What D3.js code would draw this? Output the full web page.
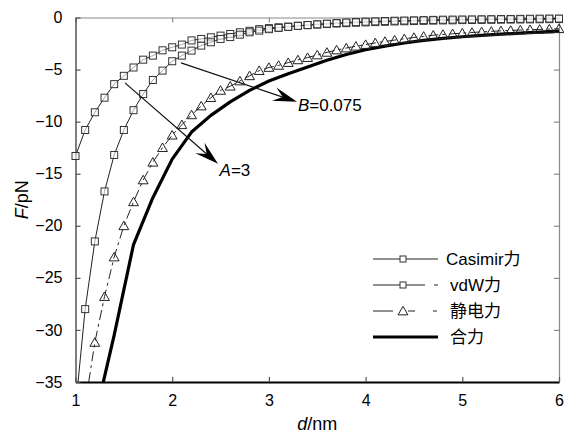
<!DOCTYPE html>
<html><head><meta charset="utf-8">
<script src="https://cdn.jsdelivr.net/npm/d3@7"></script>
<style>
html,body{margin:0;padding:0;background:#fff;}
text{font-family:"Liberation Sans",Arial,"Noto Sans CJK SC",sans-serif;}
</style></head>
<body><svg id="chart" width="564" height="436"></svg>
<script>
// ---- data ----
const dGrid = [1.0,1.1,1.2,1.3,1.4,1.5,1.6,1.7,1.8,1.9,2.0,2.1,2.2,2.3,2.4,2.5,2.6,2.7,2.8,2.9,3.0,3.1,3.2,3.3,3.4,3.5,3.6,3.7,3.8,3.9,4.0,4.1,4.2,4.3,4.4,4.5,4.6,4.7,4.8,4.9,5.0,5.1,5.2,5.3,5.4,5.5,5.6,5.7,5.8,5.9,6.0];
const casimir = [-13.3,-10.8,-9.1,-7.7,-6.4,-5.6,-4.8,-4.05,-3.66,-3.15,-2.86,-2.6,-2.2,-2.06,-1.9,-1.74,-1.58,-1.42,-1.28,-1.12,-1.02,-0.94,-0.88,-0.8,-0.74,-0.68,-0.63,-0.58,-0.54,-0.5,-0.47,-0.44,-0.41,-0.38,-0.36,-0.34,-0.32,-0.3,-0.28,-0.27,-0.25,-0.24,-0.23,-0.22,-0.21,-0.2,-0.19,-0.18,-0.17,-0.16,-0.15];
const vdw = [-37.5,-28.0,-21.5,-16.7,-13.2,-10.8,-8.9,-7.35,-6.0,-5.1,-4.2,-3.66,-3.18,-2.7,-2.38,-2.06,-1.88,-1.65,-1.42,-1.26,-1.12,-1.0,-0.9,-0.8,-0.72,-0.65,-0.59,-0.53,-0.48,-0.44,-0.4,-0.37,-0.34,-0.31,-0.29,-0.27,-0.25,-0.23,-0.21,-0.2,-0.19,-0.18,-0.17,-0.16,-0.15,-0.14,-0.13,-0.12,-0.11,-0.1,-0.1];
const electro = [-45.0,-37.2,-31.2,-26.8,-23.0,-20.0,-17.7,-15.6,-13.9,-12.5,-11.3,-10.3,-9.35,-8.5,-7.7,-7.0,-6.6,-6.1,-5.6,-5.1,-4.8,-4.6,-4.33,-4.07,-3.85,-3.6,-3.35,-3.12,-2.93,-2.76,-2.6,-2.44,-2.3,-2.17,-2.04,-1.92,-1.81,-1.7,-1.63,-1.56,-1.5,-1.44,-1.38,-1.33,-1.28,-1.24,-1.2,-1.17,-1.14,-1.11,-1.08];
const totalD = [1.2,1.4,1.6,1.8,2.0,2.2,2.4,2.6,2.8,3.0,3.2,3.4,3.6,3.8,4.0,4.2,4.4,4.6,4.8,5.0,5.2,5.4,5.6,5.8,6.0];
const totalF = [-38.5,-30.5,-21.8,-17.3,-13.6,-11.0,-9.4,-8.1,-7.0,-6.1,-5.4,-4.75,-4.1,-3.55,-3.1,-2.75,-2.45,-2.2,-2.0,-1.85,-1.72,-1.6,-1.5,-1.4,-1.3];
const xTicks = [1,2,3,4,5,6];
const yTicks = [0,-5,-10,-15,-20,-25,-30,-35];
const legendLabels = ["Casimir力","vdW力","静电力","合力"];
// annotations (data units)
const annA = {from:[1.512,-6.28], to:[2.474,-14.05], label:[2.49,-15.25], name:"A", value:"=3"};
const annB = {from:[2.091,-4.36], to:[3.29,-8.1], label:[3.30,-8.95], name:"B", value:"=0.075"};

// ---- layout ----
const svg = d3.select("#chart");
const L = 75.5, R = 559, T = 17.5, B = 382;
const x = d3.scaleLinear().domain([1,6]).range([L,R]);
const y = d3.scaleLinear().domain([-35,0]).range([B,T]);

svg.append("defs").append("clipPath").attr("id","clip")
  .append("rect").attr("x",L).attr("y",T).attr("width",R-L).attr("height",B-T);

const topAx = svg.append("g").attr("transform",`translate(0,${T})`)
  .call(d3.axisTop(x).tickValues(xTicks).tickSizeInner(-5).tickSizeOuter(0).tickFormat(""));
const rightAx = svg.append("g").attr("transform",`translate(${R},0)`)
  .call(d3.axisRight(y).tickValues(yTicks).tickSizeInner(-5).tickSizeOuter(0).tickFormat(""));
[topAx,rightAx].forEach(g=>{g.selectAll("path,line").attr("stroke","#8a8a8a").attr("stroke-width",1.2);});

const botAx = svg.append("g").attr("transform",`translate(0,${B})`)
  .call(d3.axisBottom(x).tickValues(xTicks).tickSizeInner(-5).tickSizeOuter(0).tickPadding(10).tickFormat(d3.format("d")));
botAx.selectAll("path").attr("stroke","#000").attr("stroke-width",1.8);
botAx.selectAll("line").attr("stroke","#555").attr("stroke-width",1.2);
botAx.selectAll("text").attr("font-size",16).attr("fill","#000").attr("dy","0.85em");

const leftAx = svg.append("g").attr("transform",`translate(${L},0)`)
  .call(d3.axisLeft(y).tickValues(yTicks).tickSizeInner(-5).tickSizeOuter(0).tickPadding(13));
leftAx.selectAll("path").attr("stroke","#555").attr("stroke-width",1.5);
leftAx.selectAll("line").attr("stroke","#555").attr("stroke-width",1.2);
leftAx.selectAll("text").attr("font-size",16).attr("fill","#000");

const xt = svg.append("text").attr("x",(L+R)/2).attr("y",430).attr("text-anchor","middle").attr("font-size",18);
xt.append("tspan").attr("font-style","italic").text("d");
xt.append("tspan").text("/nm");
const yt = svg.append("text").attr("transform",`translate(28,${(T+B)/2}) rotate(-90)`).attr("text-anchor","middle").attr("font-size",18);
yt.append("tspan").attr("font-style","italic").text("F");
yt.append("tspan").text("/pN");

// ---- series ----
const plot = svg.append("g");
const clipped = plot.append("g").attr("clip-path","url(#clip)");
const line = d3.line().x(d=>x(d[0])).y(d=>y(d[1]));
const zip = (xs,ys)=>xs.map((v,i)=>[v,ys[i]]);

clipped.append("path").datum(zip(dGrid,casimir)).attr("d",line)
  .attr("fill","none").attr("stroke","#222").attr("stroke-width",1);
clipped.append("path").datum(zip(dGrid,vdw)).attr("d",line)
  .attr("fill","none").attr("stroke","#222").attr("stroke-width",1);
clipped.append("path").datum(zip(dGrid,electro)).attr("d",line)
  .attr("fill","none").attr("stroke","#222").attr("stroke-width",1).attr("stroke-dasharray","10,4,3,4");
clipped.append("path").datum(zip(totalD,totalF)).attr("d",line)
  .attr("fill","none").attr("stroke","#000").attr("stroke-width",3.2).attr("stroke-linejoin","round");

const sq = 7;
function squares(vals){
  plot.append("g").selectAll("rect").data(zip(dGrid,vals).filter(d=>d[1]>=-35))
    .join("rect").attr("x",d=>x(d[0])-sq/2).attr("y",d=>y(d[1])-sq/2)
    .attr("width",sq).attr("height",sq).attr("fill","#fff").attr("fill-opacity",0.6)
    .attr("stroke","#333").attr("stroke-width",1);
}
squares(casimir);
squares(vdw);
const tri = d3.symbol().type(d3.symbolTriangle).size(42);
plot.append("g").selectAll("path").data(zip(dGrid,electro).filter(d=>d[1]>=-35))
  .join("path").attr("d",tri).attr("transform",d=>`translate(${x(d[0])},${y(d[1])+1})`)
  .attr("fill","none").attr("stroke","#222").attr("stroke-width",1);

// ---- annotations ----
function arrow(a){
  const x1=x(a.from[0]), y1=y(a.from[1]), x2=x(a.to[0]), y2=y(a.to[1]);
  const ang=Math.atan2(y2-y1,x2-x1), c=Math.cos(ang), s=Math.sin(ang);
  const len=24, w=7, notch=15;
  svg.append("line").attr("x1",x1).attr("y1",y1).attr("x2",x2-c*notch).attr("y2",y2-s*notch)
    .attr("stroke","#111").attr("stroke-width",1.2);
  const p=[[x2,y2],[x2-c*len-s*w,y2-s*len+c*w],[x2-c*notch,y2-s*notch],[x2-c*len+s*w,y2-s*len-c*w]];
  svg.append("path").attr("d","M"+p.map(q=>q.join(",")).join("L")+"Z").attr("fill","#000");
  const t=svg.append("text").attr("x",x(a.label[0])).attr("y",y(a.label[1])).attr("font-size",17);
  t.append("tspan").attr("font-style","italic").text(a.name);
  t.append("tspan").text(a.value);
}
arrow(annA); arrow(annB);

// ---- legend ----
const lg = svg.append("g");
const rows=[259,285,311,337], lx1=373, lx2=438, mx=403;
lg.append("line").attr("x1",lx1).attr("x2",lx2).attr("y1",rows[0]).attr("y2",rows[0]).attr("stroke","#222");
lg.append("line").attr("x1",lx1).attr("x2",lx2).attr("y1",rows[1]).attr("y2",rows[1]).attr("stroke","#222").attr("stroke-dasharray","52,9,4,100");
lg.append("line").attr("x1",lx1).attr("x2",lx2).attr("y1",rows[2]).attr("y2",rows[2]).attr("stroke","#222").attr("stroke-dasharray","20,15,7,18,4,100");
lg.append("line").attr("x1",lx1).attr("x2",lx2).attr("y1",rows[3]).attr("y2",rows[3]).attr("stroke","#000").attr("stroke-width",3.2);
[0,1].forEach(i=>lg.append("rect").attr("x",mx-3).attr("y",rows[i]-3).attr("width",6).attr("height",6)
  .attr("fill","#fff").attr("stroke","#333"));
lg.append("path").attr("d",tri).attr("transform",`translate(${mx},${rows[2]+1})`).attr("fill","#fff").attr("stroke","#222");
legendLabels.forEach((s,i)=>{
  lg.append("text").attr("x",i===0?446:450).attr("y",rows[i]).attr("dy","0.36em").attr("font-size",17).text(s);
});
</script></body></html>
